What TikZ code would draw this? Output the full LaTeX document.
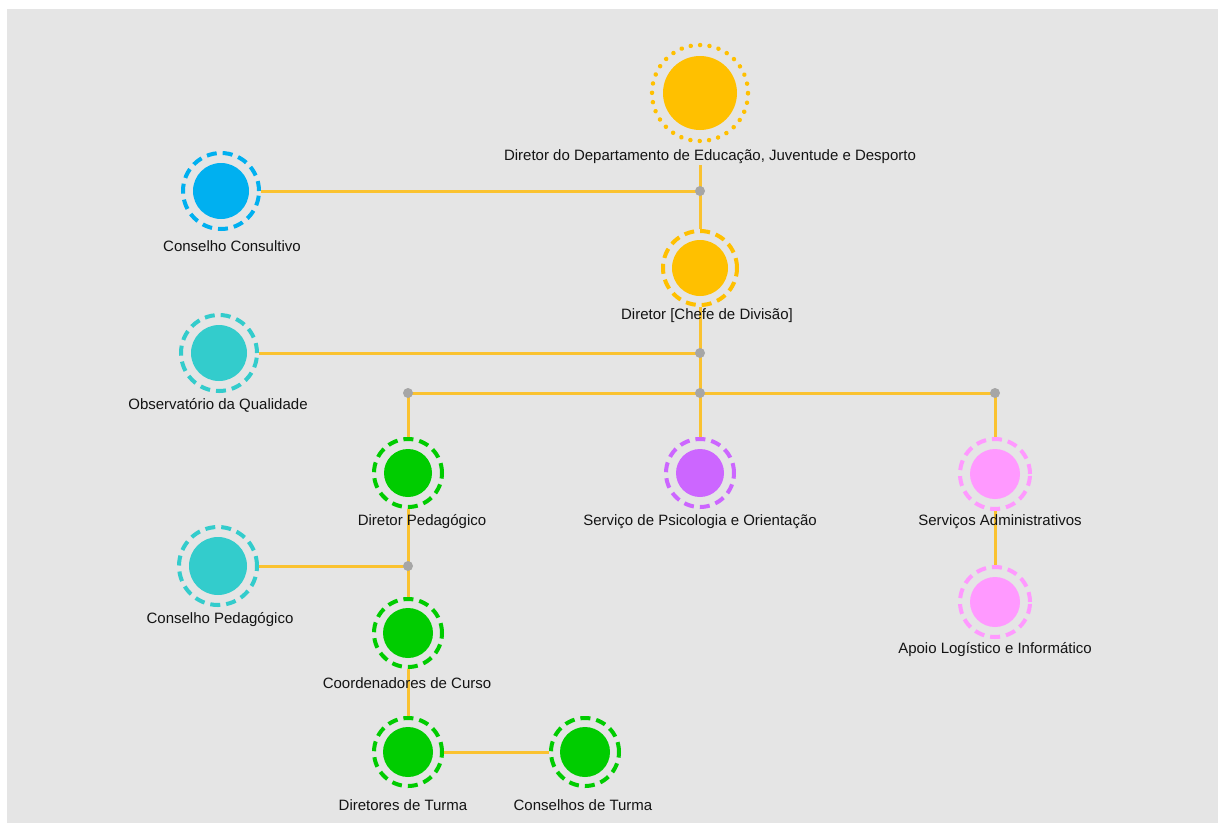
\documentclass[tikz,border=0pt]{standalone}
\usepackage{fontspec}
\setmainfont{Liberation Sans}
\definecolor{bgc}{HTML}{E5E5E5}
\definecolor{orc}{HTML}{FFC000}
\definecolor{linec}{HTML}{FAC230}
\definecolor{bluc}{HTML}{00B0F0}
\definecolor{tealc}{HTML}{33CCCC}
\definecolor{grnc}{HTML}{00CC00}
\definecolor{purc}{HTML}{CC66FF}
\definecolor{pinkc}{HTML}{FF99FF}
\definecolor{dotc}{HTML}{A6A6A6}
\definecolor{txtc}{HTML}{141414}
\tikzset{
  ringnode/.style={circle, inner sep=0pt, minimum size=#1, line width=4pt, dash pattern=on 10pt off 6pt},
  topring/.style={circle, inner sep=0pt, minimum size=#1, line width=4.5pt, line cap=round, dash pattern=on 0.01pt off 9.4pt},
  lbl/.style={text=txtc, font=\fontsize{15}{18}\selectfont, inner sep=0pt, anchor=center},
  conn/.style={draw=linec, line width=3pt},
  junc/.style={circle, fill=dotc, inner sep=0pt, minimum size=10pt},
}
\newcommand{\orgnode}[6]{% name, x, y, colour, ring diam, fill radius
  \node[ringnode=#5, draw=#4] (#1) at (#2,#3) {};
  \fill[#4] (#1.center) circle (#6);
}
\begin{document}
\begin{tikzpicture}[x=1pt,y=-1pt]
\useasboundingbox (0,0) rectangle (1218,823);
\fill[white] (0,0) rectangle (1218,823);
\fill[bgc] (7,9) rectangle (1218,823);

% junction positions
\coordinate (j1) at (700,191);
\coordinate (j2) at (700,353);
\coordinate (j3) at (700,393);
\coordinate (jl) at (408,393);
\coordinate (jr) at (995,393);
\coordinate (j4) at (408,566);

% nodes
\node[topring=96pt, draw=orc] (dir) at (700,93) {};
\fill[orc] (dir.center) circle (37);
\orgnode{cc}{221}{191}{bluc}{76pt}{28}
\orgnode{chefe}{700}{268}{orc}{74pt}{28}
\orgnode{obs}{219}{353}{tealc}{76pt}{28}
\orgnode{dp}{408}{473}{grnc}{68pt}{24}
\orgnode{psi}{700}{473}{purc}{68pt}{24}
\orgnode{sa}{995}{474}{pinkc}{70pt}{25}
\orgnode{apoio}{995}{602}{pinkc}{70pt}{25}
\orgnode{cp}{218}{566}{tealc}{78pt}{29}
\orgnode{coord}{408}{633}{grnc}{68pt}{25}
\orgnode{dt}{408}{752}{grnc}{68pt}{25}
\orgnode{ct}{585}{752}{grnc}{68pt}{25}

% connectors
\draw[conn] (dir.south) ++(0,22) -- (j1);
\draw[conn] (j1) -- (chefe);
\draw[conn] (cc) -- (j1);
\draw[conn] (chefe) -- (j2);
\draw[conn] (obs) -- (j2);
\draw[conn] (j2) -- (j3);
\draw[conn] (j3) -- (psi);
\draw[conn] (j3) -- (jl) -- (dp);
\draw[conn] (j3) -- (jr) -- (sa);
\draw[conn] (dp) -- (j4);
\draw[conn] (cp) -- (j4);
\draw[conn] (j4) -- (coord);
\draw[conn] (coord) -- (dt);
\draw[conn] (dt) -- (ct);
\draw[conn] (sa) -- (apoio);

% junction dots
\node[junc] (d1) at (j1) {};
\node[junc] (d2) at (j2) {};
\node[junc] (d3) at (j3) {};
\node[junc] (dl) at (jl) {};
\node[junc] (dr) at (jr) {};
\node[junc] (d4) at (j4) {};

% labels
\node[lbl] (ldir) at (710,157) {Diretor do Departamento de Educação, Juventude e Desporto};
\node[lbl] (lcc) at (232,246) {Conselho Consultivo};
\node[lbl] (lchefe) at (707,316) {Diretor [Chefe de Divisão]};
\node[lbl] (lobs) at (218,405) {Observatório da Qualidade};
\node[lbl] (ldp) at (422,522) {Diretor Pedagógico};
\node[lbl] (lpsi) at (700,522) {Serviço de Psicologia e Orientação};
\node[lbl] (lsa) at (1000,522) {Serviços Administrativos};
\node[lbl] (lapoio) at (995,650) {Apoio Logístico e Informático};
\node[lbl] (lcp) at (220,620) {Conselho Pedagógico};
\node[lbl] (lcoord) at (407,683) {Coordenadores de Curso};
\node[lbl] (ldt) at (403,805) {Diretores de Turma};
\node[lbl] (lct) at (583,805) {Conselhos de Turma};
\end{tikzpicture}
\end{document}
